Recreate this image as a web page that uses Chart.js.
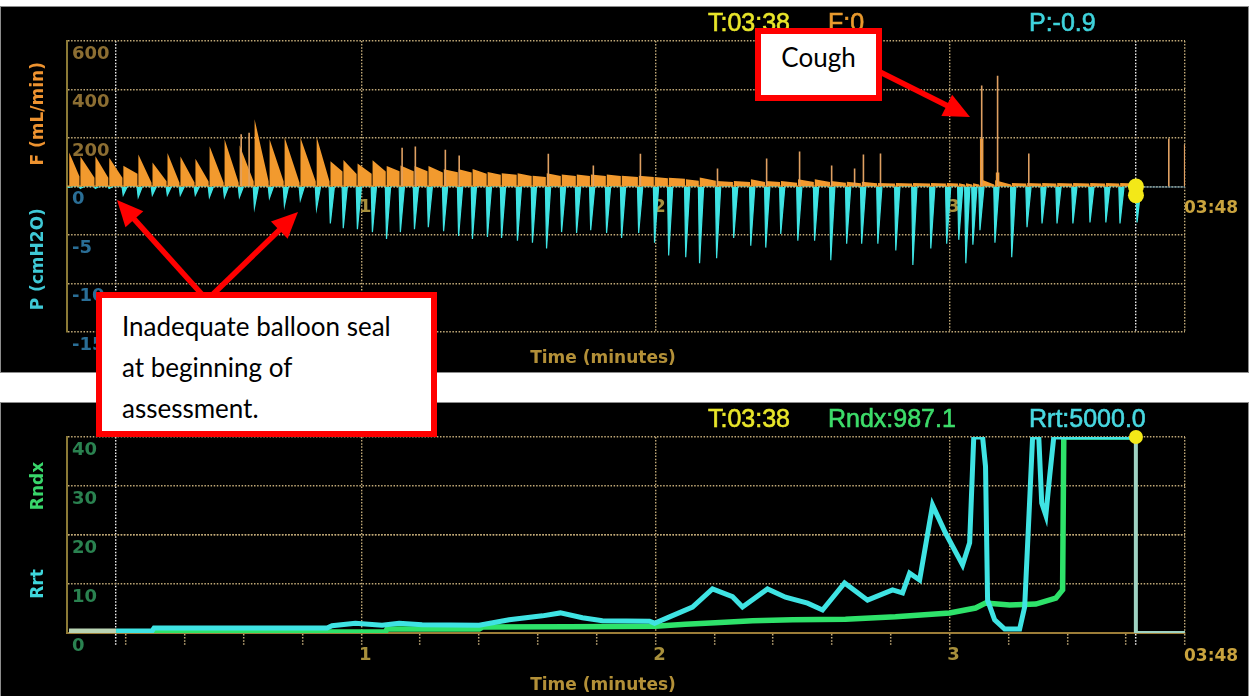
<!DOCTYPE html>
<html lang="en">
<head>
<meta charset="utf-8">
<title>Flow, pressure and resistance recording</title>
<script src="https://cdn.jsdelivr.net/npm/chart.js@4.4.1/dist/chart.umd.min.js"></script>
<style>
  html, body { margin: 0; padding: 0; background: #fff; }
  body { width: 1249px; height: 696px; position: relative; overflow: hidden; font-family: 'Liberation Sans', Arial, sans-serif; }
  .panel { position: absolute; left: 1px; width: 1247px; background: #000; box-shadow: 0 0 0 1px #8c8c8c; }
  #topPanel { top: 7px; height: 365px; }
  #bottomPanel { top: 403px; height: 293px; }
  .panel canvas { position: absolute; left: 0; top: 0; }
  .readout { position: absolute; font-size: 25px; line-height: 25px; white-space: nowrap; -webkit-text-stroke: 0.6px currentColor; }
  .axisText { position: absolute; font-family: 'DejaVu Sans', sans-serif; font-weight: bold; font-size: 17px; line-height: 17px; white-space: nowrap; }
  .centered { transform: translateX(-50%); }
  #arrows { position: absolute; left: 0; top: 0; }
  .note { position: absolute; box-sizing: border-box; border: 6px solid #ff0000; background: #fff; color: #000;
          font-family: Lato, 'Open Sans', sans-serif; font-size: 26px; white-space: nowrap; }
  #coughNote { left: 755px; top: 28px; width: 127px; height: 73px; text-align: center; padding-top: 8px; line-height: 31px; }
  #sealNote { left: 96px; top: 292px; width: 341px; height: 145px; padding: 8px 0 0 20px; line-height: 41px; }
</style>
</head>
<body>
<div id="topPanel" class="panel"><canvas id="waveChart" width="1247" height="365"></canvas></div>
<div id="bottomPanel" class="panel"><canvas id="trendChart" width="1247" height="293"></canvas></div>

<div class="readout" style="left:708px;top:10px;color:#e9e62a">T:03:38</div>
<div class="readout" style="left:828px;top:10px;color:#e99a2e">F:0</div>
<div class="readout" style="left:1029px;top:10px;color:#3fd3dc">P:-0.9</div>
<div class="readout" style="left:708px;top:406px;color:#e9e62a">T:03:38</div>
<div class="readout" style="left:828px;top:406px;color:#3ddc6a">Rndx:987.1</div>
<div class="readout" style="left:1029px;top:406px;color:#48d8e0">Rrt:5000.0</div>

<div class="axisText centered" style="left:603px;top:349px;color:#b39038">Time (minutes)</div>
<div class="axisText centered" style="left:603px;top:676px;color:#b39038">Time (minutes)</div>
<div class="axisText" style="left:1184px;top:199px;color:#c9a33e">03:48</div>
<div class="axisText" style="left:1184px;top:647px;color:#c9a33e">03:48</div>

<svg id="arrows" width="1249" height="696"></svg>
<div class="note" id="coughNote">Cough</div>
<div class="note" id="sealNote">Inadequate balloon seal<br>at beginning of<br>assessment.</div>

<script>
// time axis, minutes
const endTime = 3.8;          // 03:48
const cursorTime = 3.6333;    // 03:38
const startMarker = 0.1667;
const minuteTicks = [1, 2, 3];
const minorTimeTicks = [0.2, 0.4, 0.6, 0.8, 1.2, 1.4, 1.6, 1.8, 2.2, 2.4, 2.6, 2.8, 3.2, 3.4, 3.6];

// readouts at the cursor
const readoutF = 0;
const readoutP = -0.9;

// one entry per breath: start time (min), pressure dip (cmH2O), flow at start / end of the sawtooth (mL/min)
const breathTimes = [0.003, 0.041, 0.092, 0.139, 0.187, 0.238, 0.286, 0.337, 0.381, 0.432,
  0.480, 0.531, 0.582, 0.633, 0.684, 0.735, 0.789, 0.844, 0.891, 0.935,
  0.983, 1.034, 1.082, 1.129, 1.177, 1.224, 1.276, 1.327, 1.374, 1.425,
  1.473, 1.527, 1.578, 1.626, 1.677, 1.728, 1.776, 1.830, 1.881, 1.939,
  1.993, 2.041, 2.099, 2.146, 2.204, 2.262, 2.320, 2.371, 2.422, 2.480,
  2.537, 2.592, 2.646, 2.697, 2.752, 2.813, 2.871, 2.932, 2.986, 3.027,
  3.051, 3.075, 3.099, 3.150, 3.207, 3.259, 3.310, 3.361, 3.415, 3.473,
  3.527, 3.575, 3.633];
const breathPressure = [-0.1, -0.2, -0.2, -0.2, -0.9, -1.1, -0.9, -0.9, -0.9, -0.9,
  -1.1, -1.1, -1.1, -2.2, -1.2, -2.0, -1.4, -2.3, -3.8, -4.3,
  -4.4, -4.7, -5.4, -4.7, -4.4, -4.2, -4.6, -5.1, -5.4, -5.2,
  -5.3, -5.6, -5.8, -6.4, -4.7, -4.8, -4.5, -4.8, -5.3, -4.8,
  -5.8, -7.1, -7.3, -7.9, -7.4, -5.3, -6.1, -6.3, -4.9, -5.6,
  -5.6, -7.6, -5.9, -5.9, -5.9, -6.6, -8.1, -6.4, -5.9, -5.5,
  -7.9, -6.0, -4.5, -5.8, -7.3, -4.2, -3.8, -3.8, -3.8, -3.7,
  -3.7, -3.8, -3.7];
const breathFlowPeak = [120, 110, 110, 105, 78, 113, 87, 117, 107, 99,
  144, 169, 148, 240, 169, 177, 177, 175, 95, 99,
  87, 99, 78, 80, 78, 78, 66, 66, 66, 55,
  50, 50, 40, 50, 45, 45, 45, 45, 40, 40,
  35, 32, 25, 32, 18, 18, 25, 18, 18, 25,
  25, 18, 15, 15, 10, 10, 10, 10, 10, 8,
  8, 8, 25, 20, 10, 10, 10, 10, 10, 10,
  10, 10, 0];
const breathFlowEnd = [40, 35, 35, 35, 50, 15, 20, 15, 15, 20,
  15, 15, 20, 20, 20, 15, 20, 20, 60, 50,
  50, 60, 60, 60, 60, 55, 55, 55, 50, 45,
  45, 40, 35, 40, 40, 40, 40, 40, 35, 35,
  30, 28, 20, 20, 15, 15, 15, 15, 12, 15,
  15, 12, 10, 10, 8, 8, 8, 8, 8, 5,
  5, 5, 5, 5, 8, 8, 8, 8, 8, 8,
  8, 8, 0];

// thin flow spikes (incl. the two coughs), and the wider base of each cough
const flowSpikeTimes = [0.592, 0.619, 1.139, 1.184, 1.286, 1.333, 1.636, 1.789, 1.949, 2.211,
  2.378, 2.490, 2.599, 2.677, 2.707, 2.765, 3.109, 3.163, 3.269, 3.745, 3.799];
const flowSpikeValues = [215, 222, 160, 165, 152, 128, 135, 87, 135, 74,
  115, 144, 87, 74, 132, 136, 416, 457, 136, 198, 173];
const coughBaseTimes = [3.109, 3.163];
const coughBaseValues = [198, 58];

// lower trend panel
const rrtTimes = [0.007, 0.167, 0.289, 0.296, 0.884, 0.901, 0.980, 1.071, 1.129, 1.207,
  1.401, 1.503, 1.616, 1.677, 1.752, 1.820, 1.980, 1.997, 2.048, 2.126,
  2.194, 2.262, 2.296, 2.381, 2.442, 2.517, 2.568, 2.643, 2.721, 2.806,
  2.840, 2.864, 2.898, 2.942, 2.986, 3.044, 3.068, 3.082, 3.112, 3.122,
  3.129, 3.153, 3.187, 3.238, 3.255, 3.272, 3.282, 3.303, 3.313, 3.327,
  3.340, 3.354, 3.633];
const rrtValues = [0.4, 0.4, 0.4, 1.0, 1.0, 1.5, 2.0, 1.6, 2.0, 1.7,
  1.6, 2.7, 3.5, 4.1, 3.1, 2.5, 2.4, 2.0, 3.3, 5.3,
  9.0, 7.4, 5.3, 9.0, 7.3, 6.1, 4.7, 10.2, 6.7, 8.8,
  8.2, 12.2, 10.8, 26.1, 20.4, 13.9, 18.4, 40, 40, 34,
  6.7, 2.7, 0.8, 0.8, 5.3, 27, 40, 40, 26.5, 24,
  32, 40, 40];
const rndxTimes = [0.007, 0.167, 1.082, 1.088, 1.401, 1.412, 1.707, 2.000, 2.102, 2.204,
  2.330, 2.466, 2.646, 2.816, 3.000, 3.088, 3.122, 3.204, 3.293, 3.361,
  3.384, 3.388, 3.633];
const rndxValues = [0.2, 0.2, 0.2, 0.8, 0.8, 1.2, 1.3, 1.4, 1.8, 2.1,
  2.5, 2.7, 2.8, 3.3, 4.1, 5.1, 6.1, 5.7, 5.9, 7.1,
  8.8, 40, 40];
const pendingTimes = [3.633, 3.633, 3.8];
const pendingValues = [40, 0, 0];

// colours
const ORANGE = '#f29a2e';
const CYAN = '#3fe3e3';
const GREEN = '#2ee26a';
const YELLOW = '#f3e818';
const GRID = '#c2aa78';
const WHITE_LINE = '#f0f0f0';
const AXIS = '#8b7a36';
const DOTS = [1.5, 1.6];
const tickFont = { family: 'DejaVu Sans', weight: 'bold', size: 18 };
const titleFont = { family: 'DejaVu Sans', weight: 'bold', size: 17 };

// sawtooth flow shape and pressure dips, built from the breath table
const FLOW_LAG = 0.008, FLOW_GAP = 0.002, DIP_TIP = 0.004, DIP_WIDTH = 0.018;
const flowPoints = [{ x: 0, y: 0 }];
for (let i = 0; i < breathTimes.length - 1; i++) {
  const a = breathTimes[i] + FLOW_LAG;
  const b = breathTimes[i + 1] - FLOW_GAP;
  flowPoints.push({ x: a, y: 0 }, { x: a, y: breathFlowPeak[i] }, { x: b, y: breathFlowEnd[i] }, { x: b, y: 0 });
}
flowPoints.push({ x: cursorTime, y: 0 });

const pressurePoints = [{ x: 0, y: 0 }];
breathTimes.forEach((t, i) => {
  pressurePoints.push({ x: t, y: 0 }, { x: t + DIP_TIP, y: breathPressure[i] }, { x: t + DIP_WIDTH, y: 0 });
});

function verticalStrokes(times, values) {
  const pts = [];
  times.forEach((t, i) => {
    pts.push({ x: t, y: 0 }, { x: t, y: values[i] }, { x: t, y: 0 }, { x: t, y: null });
  });
  return pts;
}

const toPoints = (xs, ys) => xs.map((x, i) => ({ x: x, y: ys[i] }));

function timeLineColor(v) {
  if (v === startMarker || v === cursorTime) return WHITE_LINE;
  if (minuteTicks.includes(v) || v === endTime) return GRID;
  return 'rgba(0,0,0,0)';
}

const fixWidth = w => axis => { axis.width = w; };
const baseOptions = {
  responsive: false,
  animation: false,
  devicePixelRatio: 1,
  events: [],
  plugins: { legend: { display: false }, tooltip: { enabled: false } },
  elements: { point: { radius: 0 }, line: { tension: 0 } }
};

function yAxis(opts) {
  return {
    type: 'linear',
    position: 'left',
    stack: opts.stack,
    stackWeight: 1,
    min: opts.min,
    max: opts.max,
    afterFit: fixWidth(66),
    ticks: {
      stepSize: opts.step, mirror: true, padding: 5, labelOffset: 13, autoSkip: false,
      color: opts.tickColor, font: tickFont, callback: opts.callback || (v => v)
    },
    grid: { color: opts.gridColor || GRID, lineWidth: 1.4, drawTicks: false },
    border: { color: AXIS, width: 2, dash: DOTS },
    title: { display: true, text: opts.title, color: opts.titleColor, font: titleFont, padding: { top: 27, bottom: 0 } }
  };
}

new Chart(document.getElementById('waveChart'), {
  type: 'line',
  data: {
    datasets: [
      { data: [{ x: cursorTime, y: readoutF }], yAxisID: 'yF', showLine: false, pointRadius: 8,
        pointBackgroundColor: YELLOW, pointBorderWidth: 0, clip: false },
      { data: [{ x: cursorTime, y: readoutP }], yAxisID: 'yP', showLine: false, pointRadius: 8,
        pointBackgroundColor: YELLOW, pointBorderWidth: 0, clip: false },
      { data: verticalStrokes(flowSpikeTimes, flowSpikeValues), yAxisID: 'yF', borderColor: '#dfa062', borderWidth: 1.6, fill: false },
      { data: verticalStrokes(coughBaseTimes, coughBaseValues), yAxisID: 'yF', borderColor: ORANGE, borderWidth: 3.5, fill: false },
      { data: flowPoints, yAxisID: 'yF', borderColor: ORANGE, backgroundColor: ORANGE, borderWidth: 2, fill: 'origin' },
      { data: pressurePoints, yAxisID: 'yP', borderColor: CYAN, backgroundColor: CYAN, borderWidth: 1.2, fill: 'origin' },
      { data: [{ x: cursorTime, y: 0 }, { x: endTime, y: 0 }], yAxisID: 'yP', borderColor: '#4d7f9c', borderWidth: 2 }
    ]
  },
  options: {
    ...baseOptions,
    layout: { padding: { top: 34, right: 63, bottom: 40, left: 0 } },
    scales: {
      x: {
        type: 'linear', min: 0, max: endTime, position: { yF: 0 },
        afterBuildTicks: axis => {
          axis.ticks = [startMarker, ...minuteTicks, cursorTime, endTime].map(v => ({ value: v }));
        },
        ticks: {
          autoSkip: false, maxRotation: 0, padding: 10, labelOffset: 4, color: '#a8903c', font: tickFont,
          callback: v => minuteTicks.includes(v) ? v : ''
        },
        grid: { color: c => timeLineColor(c.tick.value), lineWidth: 1.4, drawTicks: false },
        border: { display: false, dash: DOTS }
      },
      yP: yAxis({ stack: 'wave', min: -15, max: 0, step: 5, tickColor: '#2a6e96',
        title: 'P (cmH2O)', titleColor: '#3fc9d6' }),
      yF: yAxis({ stack: 'wave', min: 0, max: 600, step: 200, tickColor: '#8c6e32',
        title: 'F (mL/min)', titleColor: '#ee9330', callback: v => v === 0 ? '' : v })
    }
  }
});

new Chart(document.getElementById('trendChart'), {
  type: 'line',
  data: {
    datasets: [
      { data: [{ x: cursorTime, y: 40 }], showLine: false, pointRadius: 7,
        pointBackgroundColor: YELLOW, pointBorderWidth: 0, clip: false },
      { data: toPoints(pendingTimes, pendingValues), borderColor: '#9fd2c2', borderWidth: 4 },
      { data: toPoints(rrtTimes, rrtValues), borderColor: CYAN, borderWidth: 5,
        segment: { borderColor: c => c.p1.parsed.x <= startMarker + 0.001 ? '#b9d4b4' : undefined } },
      { data: toPoints(rndxTimes, rndxValues), borderColor: GREEN, borderWidth: 5.5,
        segment: { borderColor: c => c.p1.parsed.x <= startMarker + 0.001 ? '#b9d4b4' : undefined } }
    ]
  },
  options: {
    ...baseOptions,
    layout: { padding: { top: 34, right: 63, bottom: 0, left: 0 } },
    scales: {
      x: {
        type: 'linear', min: 0, max: endTime, position: 'bottom',
        afterFit: axis => { axis.height = 63; },
        afterBuildTicks: axis => {
          const all = [startMarker, ...minorTimeTicks, ...minuteTicks, cursorTime, endTime].sort((a, b) => a - b);
          axis.ticks = all.map(v => ({ value: v }));
        },
        ticks: {
          autoSkip: false, maxRotation: 0, padding: 0, labelOffset: 4, color: '#a8903c', font: tickFont,
          callback: v => minuteTicks.includes(v) ? v : ''
        },
        grid: {
          color: c => timeLineColor(c.tick.value), lineWidth: 1.4, drawTicks: true, tickLength: 12,
          tickColor: c => c.tick.value === startMarker || c.tick.value === cursorTime ? WHITE_LINE : GRID,
          tickWidth: 1.5, tickBorderDash: DOTS
        },
        border: { color: '#9c7d38', width: 2, dash: DOTS }
      },
      y: { type: 'linear', display: false, min: 0, max: 40 },
      yRrt: yAxis({ stack: 'trend', min: 0, max: 20, step: 10, tickColor: '#2a8250',
        title: 'Rrt', titleColor: '#3fd6dc', callback: v => v === 20 ? '' : v,
        gridColor: c => c.tick.value === 0 ? 'rgba(0,0,0,0)' : GRID }),
      yRndx: yAxis({ stack: 'trend', min: 20, max: 40, step: 10, tickColor: '#2a8250',
        title: 'Rndx', titleColor: '#39d66b' })
    }
  }
});

// red annotation arrows
function arrow(x1, y1, x2, y2) {
  const head = 26, half = 12;
  const len = Math.hypot(x2 - x1, y2 - y1);
  const ux = (x2 - x1) / len, uy = (y2 - y1) / len;
  const bx = x2 - ux * head, by = y2 - uy * head;
  return `<line x1="${x1}" y1="${y1}" x2="${bx + ux * 3}" y2="${by + uy * 3}" stroke="#ff0000" stroke-width="5.5"/>` +
    `<polygon points="${x2},${y2} ${bx - uy * half},${by + ux * half} ${bx + uy * half},${by - ux * half}" fill="#ff0000"/>`;
}
document.getElementById('arrows').innerHTML =
  arrow(207, 300, 117, 200) + arrow(207, 300, 298, 212) + arrow(876, 70, 970, 117);
</script>
</body>
</html>
